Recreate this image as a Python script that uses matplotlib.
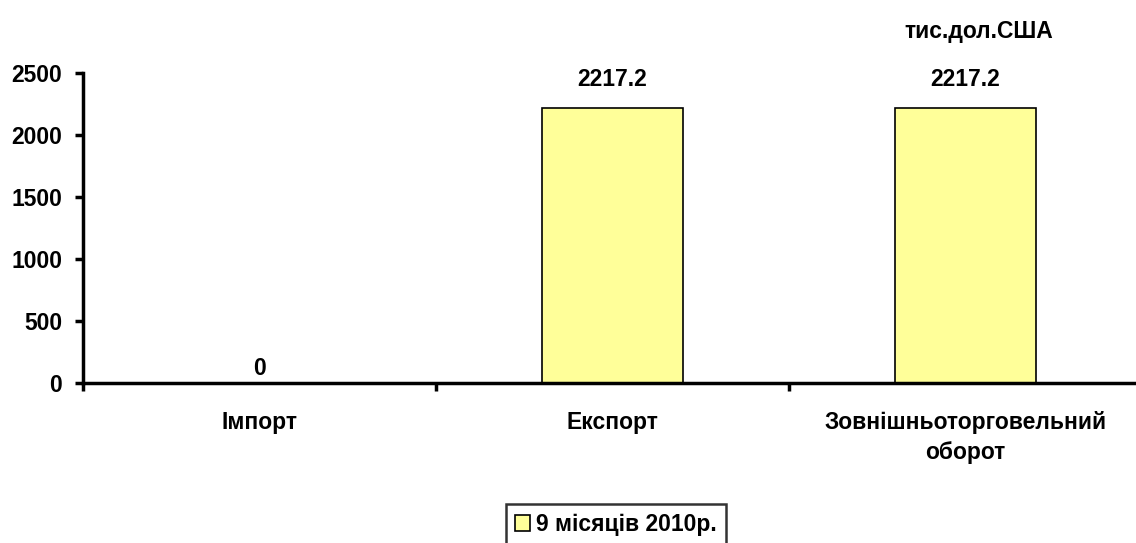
import matplotlib.pyplot as plt
import numpy as np

plt.rcParams["font.family"] = ["Liberation Sans", "DejaVu Sans"]
plt.rcParams["font.weight"] = "bold"

categories = ["Імпорт", "Експорт", "Зовнішньоторговельний\nоборот"]
values = [0, 2217.2, 2217.2]
value_labels = ["0", "2217.2", "2217.2"]
series_name = "9 місяців 2010р."
unit_label = "тис.дол.США"

FS = 16.5

fig = plt.figure(figsize=(11.36, 5.43), dpi=100)
# right edge runs slightly past the canvas, as in the original
ax = fig.add_axes([0.073, 0.2947, 0.932, 0.571])

x = np.arange(len(categories))
ax.bar(x, values, width=0.4, color="#FFFF99", edgecolor="black",
       linewidth=1.2, label=series_name, zorder=2)

for xi, v, lab in zip(x, values, value_labels):
    ax.annotate(lab, (xi, v), xytext=(0, 2 if v == 0 else 12),
                textcoords="offset points", ha="center", va="bottom",
                fontsize=FS, fontweight="bold")

ax.set_xlim(-0.5, len(categories) - 0.5)
ax.set_ylim(0, 2500)
ax.set_yticks(np.arange(0, 2501, 500))
ax.set_yticklabels([str(t) for t in range(0, 2501, 500)], fontsize=FS, fontweight="bold")

# category boundary ticks on the x axis, labels in between
ax.set_xticks(np.arange(-0.5, len(categories), 1.0))
ax.set_xticklabels([])
ax.set_xticks(x, minor=True)
ax.set_xticklabels(categories, minor=True, fontsize=FS, fontweight="bold",
                   linespacing=1.42)
ax.tick_params(axis="x", which="minor", length=0, pad=20)
ax.tick_params(axis="x", which="major", length=6, width=2.5, direction="out")
ax.tick_params(axis="y", length=6, width=2.5, direction="out", pad=9)

for side in ["top", "right"]:
    ax.spines[side].set_visible(False)
ax.spines["left"].set_linewidth(2.5)
ax.spines["bottom"].set_linewidth(2.5)
ax.spines["bottom"].set_zorder(3)

fig.text(0.862, 0.942, unit_label, ha="center", va="center",
         fontsize=FS, fontweight="bold")

# legend box is cut off by the bottom edge in the original
leg = fig.legend(loc="upper center", bbox_to_anchor=(0.542, 0.072),
                 frameon=True, fancybox=False, fontsize=FS,
                 handlelength=0.65, handleheight=0.65, handletextpad=0.25,
                 borderpad=0.4, borderaxespad=0)
leg.get_frame().set_edgecolor("black")
leg.get_frame().set_linewidth(1.8)

fig.savefig("out.png", dpi=100)
